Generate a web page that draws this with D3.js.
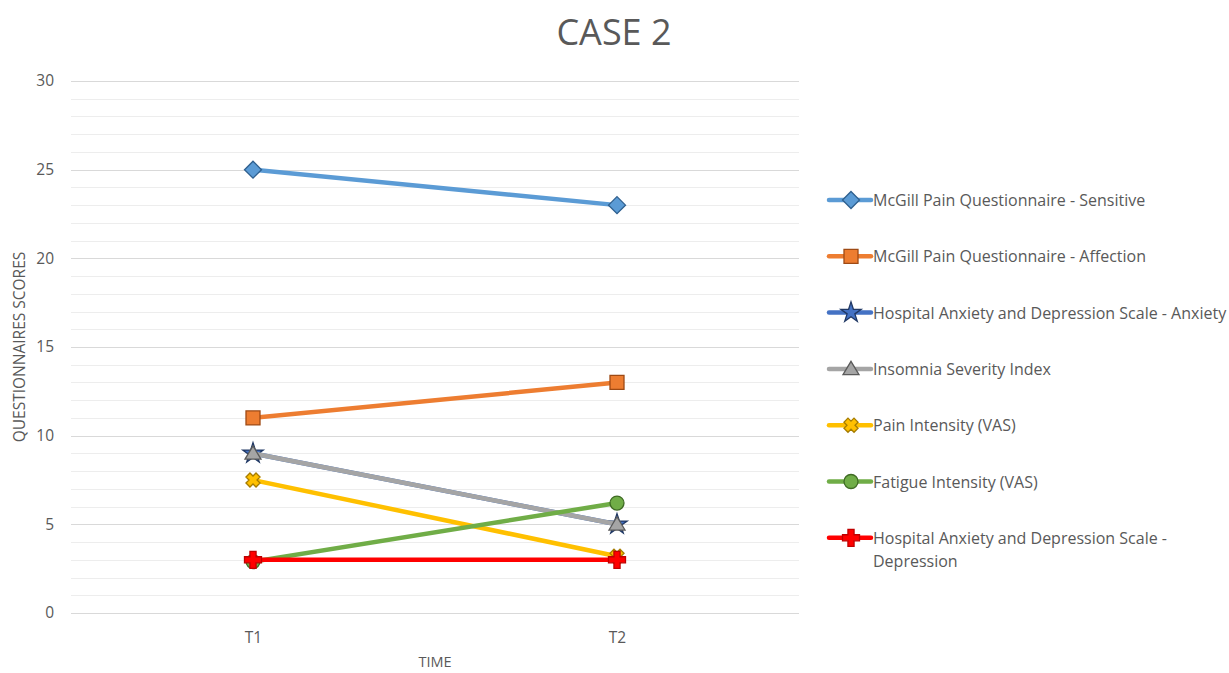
<!DOCTYPE html>
<html>
<head>
<meta charset="utf-8">
<script src="https://cdn.jsdelivr.net/npm/d3@7"></script>
<style>
  html, body { margin: 0; padding: 0; background: #ffffff; }
  svg { display: block; }
  text { font-family: "Open Sans", "Liberation Sans", Arial, sans-serif; fill: #595959; }
</style>
</head>
<body>
<svg id="chart" width="1229" height="673"></svg>
<script>
// Time points on the horizontal axis
const timePoints = ["T1", "T2"];

// Questionnaire names, in legend order
const seriesNames = [
  "McGill Pain Questionnaire - Sensitive",
  "McGill Pain Questionnaire - Affection",
  "Hospital Anxiety and Depression Scale - Anxiety",
  "Insomnia Severity Index",
  "Pain Intensity (VAS)",
  "Fatigue Intensity (VAS)",
  "Hospital Anxiety and Depression Scale - Depression"
];

// Scores at T1 and T2 for each questionnaire
const sensitiveScores  = [25, 23];
const affectionScores  = [11, 13];
const anxietyScores    = [9, 5];
const insomniaScores   = [9, 5];
const painScores       = [7.5, 3.2];
const fatigueScores    = [2.9, 6.2];
const depressionScores = [3, 3];

// Y axis tick labels
const yTicks = [0, 5, 10, 15, 20, 25, 30];

const seriesValues = [sensitiveScores, affectionScores, anxietyScores, insomniaScores,
                      painScores, fatigueScores, depressionScores];

const styles = [
  { line: "#5B9BD5", fill: "#5B9BD5", stroke: "#2E5F8E", shape: "diamond",  size: 17 },
  { line: "#ED7D31", fill: "#ED7D31", stroke: "#9E4A14", shape: "square",   size: 14 },
  { line: "#4472C4", fill: "#4472C4", stroke: "#203864", shape: "star",     size: 20 },
  { line: "#A5A5A5", fill: "#A5A5A5", stroke: "#5A5A5A", shape: "triangle", size: 16 },
  { line: "#FFC000", fill: "#FFC000", stroke: "#A67C00", shape: "x",        size: 15 },
  { line: "#70AD47", fill: "#70AD47", stroke: "#3F6B24", shape: "circle",   size: 14 },
  { line: "#FF0000", fill: "#FF0000", stroke: "#C00000", shape: "cross",    size: 17 }
];

const series = seriesNames.map((name, i) => ({ name, values: seriesValues[i], style: styles[i] }));

const svg = d3.select("#chart");

const plot = { left: 71, right: 799, top: 81, bottom: 613 };

const x = d3.scalePoint().domain(timePoints).range([plot.left, plot.right]).padding(0.5);
const y = d3.scaleLinear().domain([0, 30]).range([plot.bottom, plot.top]);

// Marker outlines, centred on the origin, s = overall width
function markerPath(shape, s) {
  const h = s / 2;
  switch (shape) {
    case "diamond":
      return `M0,${-h}L${h},0L0,${h}L${-h},0Z`;
    case "square":
      return `M${-h},${-h}H${h}V${h}H${-h}Z`;
    case "triangle": {
      const t = h * 0.95;
      return `M0,${-t}L${h},${t * 0.75}L${-h},${t * 0.75}Z`;
    }
    case "circle":
      return d3.symbol(d3.symbolCircle, Math.PI * h * h)();
    case "star":
      return d3.symbol(d3.symbolStar, s * s * 0.32)();
    case "cross": {
      const a = s * 0.18;
      return `M${-a},${-h}H${a}V${-a}H${h}V${a}H${a}V${h}H${-a}V${a}H${-h}V${-a}H${-a}Z`;
    }
    case "x": {
      const a = s * 0.2, b = h;
      const pts = [[-a, -b], [a, -b], [a, -a], [b, -a], [b, a], [a, a], [a, b], [-a, b], [-a, a], [-b, a], [-b, -a], [-a, -a]];
      const r = Math.PI / 4, c = Math.cos(r) * 0.95, sn = Math.sin(r) * 0.95;
      return "M" + pts.map(([px, py]) => [px * c - py * sn, px * sn + py * c].map(v => v.toFixed(2)).join(",")).join("L") + "Z";
    }
  }
}

// Gridlines: minor every unit, major every five
const gridG = svg.append("g");
d3.range(0, 31).forEach(v => {
  const major = v % 5 === 0;
  gridG.append("line")
    .attr("x1", plot.left).attr("x2", plot.right)
    .attr("y1", Math.round(y(v)) + 0.5).attr("y2", Math.round(y(v)) + 0.5)
    .attr("stroke", major ? "#D9D9D9" : "#EDEDED")
    .attr("stroke-width", 1.2);
});

// Y axis
const yAxis = d3.axisLeft(y).tickValues(yTicks).tickSize(0).tickPadding(17);
const yG = svg.append("g").attr("transform", `translate(${plot.left},0)`).call(yAxis);
yG.select(".domain").remove();
yG.selectAll("text").style("font-size", "15.5px").style("fill", "#595959")
  .style("font-family", "'Open Sans', 'Liberation Sans', Arial, sans-serif");

// X axis
const xAxis = d3.axisBottom(x).tickSize(0).tickPadding(19);
const xG = svg.append("g").attr("transform", `translate(0,${plot.bottom})`).call(xAxis);
xG.select(".domain").remove();
xG.selectAll("text").style("font-size", "15.5px").style("fill", "#595959")
  .style("font-family", "'Open Sans', 'Liberation Sans', Arial, sans-serif");

// Title and axis titles
svg.append("text").attr("x", 614).attr("y", 45).attr("text-anchor", "middle")
  .style("font-size", "36px").text("CASE 2");
svg.append("text").attr("x", 435).attr("y", 667).attr("text-anchor", "middle")
  .style("font-size", "14.5px").text("TIME");
svg.append("text").attr("transform", "translate(25,347) rotate(-90)").attr("text-anchor", "middle")
  .style("font-size", "15.5px").text("QUESTIONNAIRES SCORES");

// Lines and markers
const line = d3.line().x((d, i) => x(timePoints[i])).y(d => y(d));
const seriesG = svg.append("g").selectAll("g").data(series).join("g");
seriesG.append("path")
  .attr("d", d => line(d.values))
  .attr("fill", "none")
  .attr("stroke", d => d.style.line)
  .attr("stroke-width", 4.5)
  .attr("stroke-linecap", "round");
seriesG.each(function (d) {
  d3.select(this).selectAll("path.marker").data(d.values).join("path")
    .attr("class", "marker")
    .attr("transform", (v, i) => `translate(${x(timePoints[i])},${y(v)})`)
    .attr("d", markerPath(d.style.shape, d.style.size))
    .attr("fill", d.style.fill)
    .attr("stroke", d.style.stroke)
    .attr("stroke-width", 1.3);
});

// Legend
const legendTop = 200, legendStep = 56.3;
const legendG = svg.append("g").selectAll("g").data(series).join("g")
  .attr("transform", (d, i) => `translate(829,${legendTop + i * legendStep})`);
legendG.append("line").attr("x1", 0).attr("x2", 42).attr("y1", 0).attr("y2", 0)
  .attr("stroke", d => d.style.line).attr("stroke-width", 4.5).attr("stroke-linecap", "round");
legendG.append("path")
  .attr("transform", "translate(22,0)")
  .attr("d", d => markerPath(d.style.shape, d.style.size))
  .attr("fill", d => d.style.fill)
  .attr("stroke", d => d.style.stroke)
  .attr("stroke-width", 1.3);
legendG.each(function (d, i) {
  const t = d3.select(this).append("text").attr("x", 44).attr("y", 6)
    .style("font-size", "16px");
  if (i === series.length - 1) {
    t.append("tspan").attr("x", 44).text("Hospital Anxiety and Depression Scale -");
    t.append("tspan").attr("x", 44).attr("dy", 23).text("Depression");
  } else {
    t.text(d.name);
  }
});
</script>
</body>
</html>
